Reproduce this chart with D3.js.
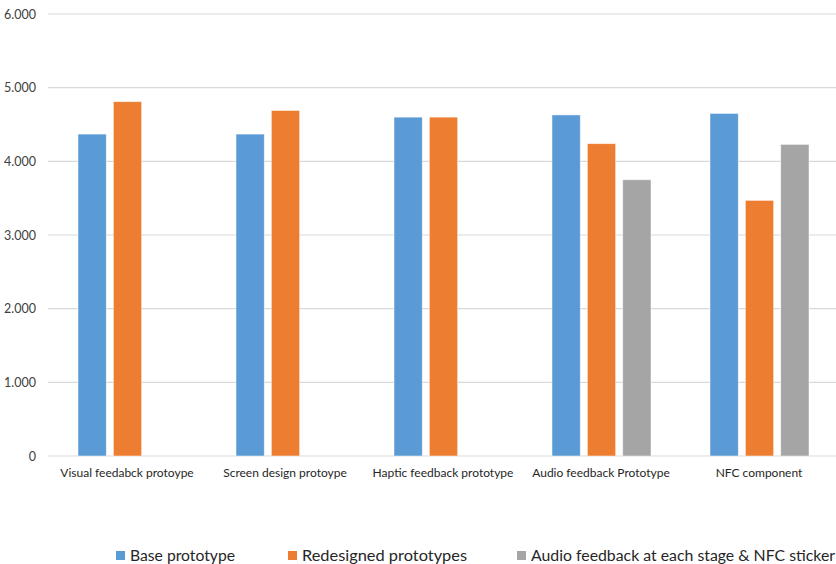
<!DOCTYPE html>
<html>
<head>
<meta charset="utf-8">
<script src="https://cdn.jsdelivr.net/npm/d3@7"></script>
<style>
  body { margin:0; background:#fff; }
  svg { font-family: Lato, "Open Sans", sans-serif; }
</style>
</head>
<body>
<svg width="836" height="564"></svg>
<script>
const CATEGORIES = ["Visual feedabck protoype","Screen design protoype","Haptic feedback prototype","Audio feedback Prototype","NFC component"]
const SERIES = ["Base prototype","Redesigned prototypes","Audio feedback at each stage & NFC sticker"]
const BASE = [4.37,4.37,4.60,4.63,4.65]
const REDESIGNED = [4.81,4.69,4.60,4.24,3.47]
const AUDIO_NFC = [null,null,null,3.75,4.23]
const Y_TICKS = [0,1,2,3,4,5,6]
const COLORS = ["#5B9BD5","#ED7D31","#A5A5A5"]

const values = [BASE, REDESIGNED, AUDIO_NFC]
const svg = d3.select("svg")

const x0 = d3.scaleBand().domain(CATEGORIES).range([48,838])
const x1 = d3.scaleBand().domain(SERIES).range([30,129]).paddingInner(0.2)
const y = d3.scaleLinear().domain([0,6]).range([456,14])

const fmt = d => d===0 ? "0" : d3.format(".3f")(d)

// grid
svg.append('g')
.selectAll('line')
.data(Y_TICKS)
.enter()
.append('line')
.attr('x1',48).attr('x2',836)
.attr('y1',d=>y(d)).attr('y2',d=>y(d))
.attr('stroke','#d9d9d9')
.attr('stroke-width',1.2)

// y labels
svg.append('g')
.selectAll('text')
.data(Y_TICKS)
.enter()
.append('text')
.attr('x',36)
.attr('y',d=>y(d)+4.5)
.attr('text-anchor','end')
.attr('font-size',12.5)
.attr('fill','#404040')
.text(d=>fmt(d))

// bars
const groups = svg.append('g')
.selectAll('g')
.data(CATEGORIES)
.enter()
.append('g')
.attr('transform',d=>`translate(${x0(d)},0)`)

groups.selectAll('rect')
.data((c,i)=>SERIES.map((s,j)=>({s, v:values[j][i], color:COLORS[j]})).filter(d=>d.v!=null))
.enter()
.append('rect')
.attr('x',d=>x1(d.s))
.attr('width',x1.bandwidth())
.attr('y',d=>y(d.v))
.attr('height',d=>y(0)-y(d.v))
.attr('fill',d=>d.color)
.attr('stroke','#ffffff')
.attr('stroke-opacity',0.6)
.attr('stroke-width',0.8)

// category labels
svg.append('g')
.selectAll('text')
.data(CATEGORIES)
.enter()
.append('text')
.attr('x',d=>x0(d)+79)
.attr('y',477)
.attr('text-anchor','middle')
.attr('font-size',12)
.attr('fill','#262626')
.text(d=>d)

// legend
const LEGEND_X = [116,288,517]
const LEGEND_W = [105,165,304]
const legend = svg.append('g')
.selectAll('g')
.data(SERIES)
.enter()
.append('g')
.attr('transform',(d,i)=>`translate(${LEGEND_X[i]},551)`)

legend.append('rect')
.attr('width',9).attr('height',9)
.attr('fill',(d,i)=>COLORS[i])

legend.append('text')
.attr('x',14)
.attr('y',9.5)
.attr('font-size',15.5)
.attr('fill','#262626')
.attr('textLength',(d,i)=>LEGEND_W[i])
.attr('lengthAdjust','spacingAndGlyphs')
.text(d=>d)
</script>
</body>
</html>
